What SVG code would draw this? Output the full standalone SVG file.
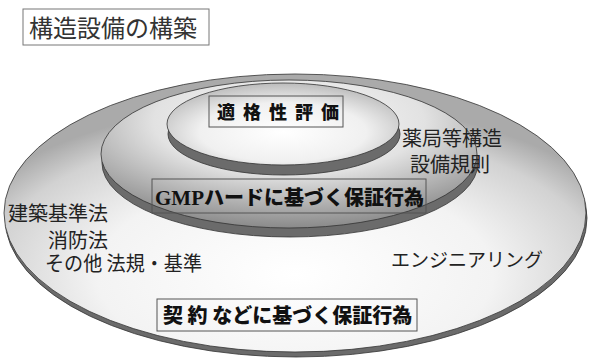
<svg xmlns="http://www.w3.org/2000/svg" width="591" height="362" viewBox="0 0 591 362">
<style>
.side{fill:#6b6b6b;stroke:#333;stroke-width:0.8}
.face{stroke:#333;stroke-width:0.8}
.box{fill:none;stroke:#555;stroke-width:1}
.lbl{font-family:"Noto Sans CJK JP","Noto Sans CJK SC",sans-serif;font-size:20px;fill:#222}
.bold{font-family:"Noto Sans CJK JP","Noto Sans CJK SC",sans-serif;font-size:20px;font-weight:900;fill:#111}
</style>
<defs>
<radialGradient id="gOuter" cx="50%" cy="72%" r="62%">
<stop offset="0" stop-color="#ffffff"/>
<stop offset="0.55" stop-color="#f3f3f3"/>
<stop offset="0.85" stop-color="#d2d2d2"/>
<stop offset="1" stop-color="#aaaaaa"/>
</radialGradient>
<radialGradient id="gMid" cx="50%" cy="28%" r="72%">
<stop offset="0" stop-color="#fbfbfb"/>
<stop offset="0.5" stop-color="#e2e2e2"/>
<stop offset="1" stop-color="#8a8a8a"/>
</radialGradient>
<radialGradient id="gInner" cx="50%" cy="60%" r="60%">
<stop offset="0" stop-color="#ffffff"/>
<stop offset="0.6" stop-color="#f0f0f0"/>
<stop offset="1" stop-color="#bcbcbc"/>
</radialGradient>
</defs>

<g id="title">
<rect class="box" x="23" y="9" width="186" height="36" style="stroke:#777"/>
<text x="29" y="37" style="font-family:'Noto Sans CJK JP',sans-serif;font-size:24px;fill:#333">構造設備の構築</text>
</g>

<g id="outer">
<ellipse class="side" cx="296" cy="218" rx="291" ry="139"/>
<ellipse class="face" cx="295" cy="213" rx="291" ry="139" fill="url(#gOuter)"/>
</g>

<g id="middle">
<ellipse class="side" cx="290" cy="163" rx="188" ry="74"/>
<ellipse class="face" cx="289" cy="154" rx="188" ry="74" fill="url(#gMid)"/>
</g>

<g id="inner">
<ellipse class="side" cx="284" cy="134" rx="116" ry="41"/>
<ellipse class="face" cx="283" cy="124" rx="116" ry="41" fill="url(#gInner)"/>
</g>

<g id="tekikaku">
<rect class="box" x="209" y="96" width="134" height="31"/>
<text class="bold" x="217" y="119" style="font-size:18px;letter-spacing:8px">適格性評価</text>
</g>

<g id="gmp">
<rect class="box" x="152" y="179" width="274" height="34"/>
<text class="bold" x="155" y="205"><tspan style="font-family:'Liberation Serif',serif;font-weight:700;font-size:21px">GMP</tspan>ハードに基づく保証行為</text>
</g>

<g id="keiyaku">
<rect class="box" x="157" y="299" width="260" height="32"/>
<text class="bold" x="163" y="323">契 約 などに基づく保証行為</text>
</g>

<g id="labels">
<text class="lbl" x="452" y="146" text-anchor="middle">薬局等構造</text>
<text class="lbl" x="450" y="172" text-anchor="middle">設備規則</text>
<text class="lbl" x="8" y="221">建築基準法</text>
<text class="lbl" x="108" y="248" text-anchor="end">消防法</text>
<text class="lbl" x="45" y="271" textLength="157" lengthAdjust="spacingAndGlyphs">その他 法規・基準</text>
<text class="lbl" x="391" y="267" style="font-size:19px">エンジニアリング</text>
</g>

<g id="connectors"></g>
</svg>
